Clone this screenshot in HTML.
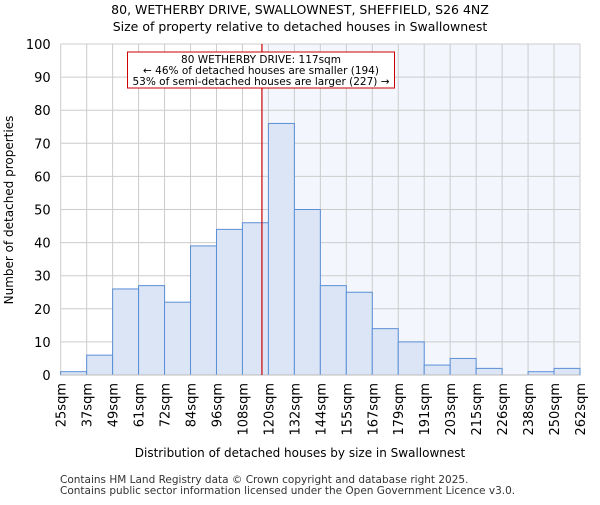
<!DOCTYPE html>
<html><head><meta charset="utf-8"><style>body{margin:0;background:#fff}svg text{font-family:"DejaVu Sans","Liberation Sans",sans-serif}</style></head>
<body>
<svg id="c" width="600" height="500" xmlns="http://www.w3.org/2000/svg">
<text x="300" y="14" text-anchor="middle" font-size="12.5">80, WETHERBY DRIVE, SWALLOWNEST, SHEFFIELD, S26 4NZ</text>
<text x="300" y="31" text-anchor="middle" font-size="12.5">Size of property relative to detached houses in Swallownest</text>
<g id="g"></g>
<text x="300" y="457" text-anchor="middle" font-size="12">Distribution of detached houses by size in Swallownest</text>
<text transform="translate(13,210) rotate(-90)" text-anchor="middle" font-size="12">Number of detached properties</text>
<text x="60" y="483" font-size="10.5" fill="#333">Contains HM Land Registry data © Crown copyright and database right 2025.</text>
<text x="60" y="494" font-size="10.5" fill="#333">Contains public sector information licensed under the Open Government Licence v3.0.</text>
</svg>
<script>
const tickLabels=["25sqm","37sqm","49sqm","61sqm","72sqm","84sqm","96sqm","108sqm","120sqm","132sqm","144sqm","155sqm","167sqm","179sqm","191sqm","203sqm","215sqm","226sqm","238sqm","250sqm","262sqm"];
const counts=[1,6,26,27,22,39,44,46,76,50,27,25,14,10,3,5,2,0,1,2];
const yTicks=[0,10,20,30,40,50,60,70,80,90,100];
const markerBin=7.75;
const L=60.7,R=580,T=44,B=375,ymax=100;
const bw=(R-L)/counts.length;
const xs=i=>L+i*bw, ys=v=>B-(v/ymax)*(B-T);
const NS="http://www.w3.org/2000/svg", g=document.getElementById('g');
function mk(t,a,txt){const e=document.createElementNS(NS,t);for(const k in a)e.setAttribute(k,a[k]);if(txt!=null)e.textContent=txt;g.appendChild(e);return e;}
const mx=xs(markerBin);
let e=mk('rect',{x:mx,y:T,width:R-mx,height:B-T,fill:'#f3f6fd'});


yTicks.forEach(v=>{
 let l=mk('line',{x1:L,x2:R,y1:ys(v),y2:ys(v),stroke:'#cccccc'});
 
 
 let t=mk('text',{x:L-10,y:ys(v)+5,'text-anchor':'end','font-size':13},v);
 
 
});
tickLabels.forEach((s,i)=>{
 let l=mk('line',{x1:xs(i),x2:xs(i),y1:T,y2:B,stroke:'#cccccc'});
 
 
 let t=mk('text',{transform:`translate(${xs(i)+5},${B+8}) rotate(-90)`,'text-anchor':'end','font-size':13},s);
 
 
});
counts.forEach((v,i)=>{
 let r=mk('rect',{x:xs(i),y:ys(v),width:bw,height:B-ys(v),fill:'#dbe5f5',stroke:'#5b8fd6','stroke-width':1});
 
 
});
e=mk('line',{x1:L,x2:R,y1:B,y2:B,stroke:'#bbb'});


e=mk('line',{x1:mx,x2:mx,y1:T,y2:B,stroke:'#cc0000','stroke-width':1.2});


e=mk('rect',{x:127.5,y:52,width:267,height:36,fill:'#fff',stroke:'#cc0000'});


[["80 WETHERBY DRIVE: 117sqm",63],["← 46% of detached houses are smaller (194)",74],["53% of semi-detached houses are larger (227) →",85]].forEach(([s,y])=>{
 let t=mk('text',{x:261,y:y,'text-anchor':'middle','font-size':10.5},s);
 
 
});
</script>
</body></html>
